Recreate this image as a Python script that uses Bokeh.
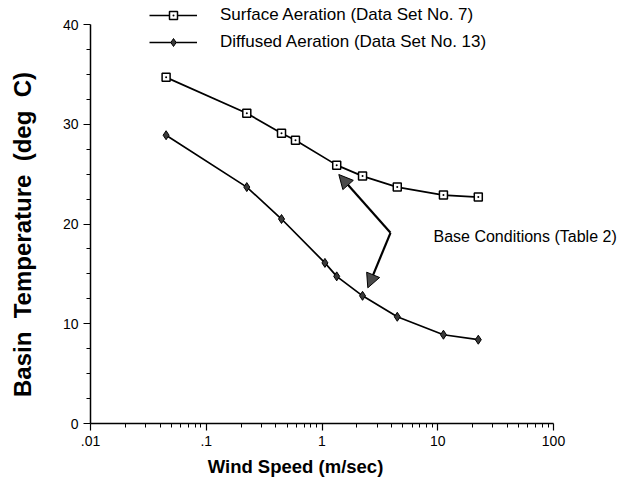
import math
from bokeh.plotting import figure
from bokeh.models import (Range1d, FixedTicker, Label, Arrow, NormalHead,
                          Legend, LegendItem)
from bokeh.embed import file_html
from bokeh.resources import INLINE

# ---- data ----
surface_wind = [0.045, 0.224, 0.447, 0.59, 1.34, 2.24, 4.47, 11.2, 22.4]
surface_temp = [34.7, 31.1, 29.1, 28.4, 25.9, 24.8, 23.7, 22.9, 22.7]
diffused_wind = [0.045, 0.224, 0.447, 1.06, 1.34, 2.24, 4.47, 11.2, 22.4]
diffused_temp = [28.9, 23.7, 20.5, 16.1, 14.75, 12.8, 10.7, 8.9, 8.4]
x_ticks = [0.01, 0.1, 1, 10, 100]
x_tick_labels = [".01", ".1", "1", "10", "100"]
y_ticks = [0, 10, 20, 30, 40]
y_tick_labels = ["0", "10", "20", "30", "40"]

FONT = "Liberation Sans"
W, H = 625, 482

# layout: the plot frame fills the canvas; the axes are drawn at fixed
# locations with bounds, so that texts outside the axes are not clipped.
# picture pixel positions of the axes' ends
PX_X0, PX_X1 = 90.0, 553.0     # x = .01 and x = 100
PX_Y0, PX_Y1 = 423.0, 24.0     # y = 0 and y = 40
dec = (PX_X1 - PX_X0) / 4.0
ypx = 40.0 / (PX_Y0 - PX_Y1)


def lx(px):
    return 10 ** (-2 + (px - PX_X0) / dec)


def ly(py):
    return (PX_Y0 - py) * ypx


p = figure(width=W, height=H, x_axis_type="log",
           x_range=Range1d(lx(0), lx(W)), y_range=Range1d(ly(H), ly(0)),
           output_backend="svg", toolbar_location=None,
           min_border=0, min_border_left=0, min_border_right=0,
           min_border_top=0, min_border_bottom=0)
p.outline_line_color = None
p.xgrid.visible = False
p.ygrid.visible = False
p.background_fill_color = "white"
p.border_fill_color = "white"

# axes
x_minor = [k * 10.0 ** e for e in range(-2, 2) for k in range(2, 10)]
p.xaxis.ticker = FixedTicker(ticks=x_ticks, minor_ticks=x_minor)
p.xaxis.major_label_overrides = dict(zip(x_ticks, x_tick_labels))
p.xaxis.fixed_location = 0
p.xaxis.bounds = (x_ticks[0], x_ticks[-1])
y_minor = [v + d for v in y_ticks[:-1] for d in (2.5, 5, 7.5)]
p.yaxis.ticker = FixedTicker(ticks=y_ticks, minor_ticks=y_minor)
p.yaxis.major_label_overrides = dict(zip(y_ticks, y_tick_labels))
p.yaxis.fixed_location = x_ticks[0]
p.yaxis.bounds = (y_ticks[0], y_ticks[-1])
for ax in (p.xaxis, p.yaxis):
    ax.axis_line_width = 1.5
    ax.axis_line_color = "black"
    ax.major_tick_line_color = "black"
    ax.minor_tick_line_color = "black"
    ax.major_tick_line_width = 1.2
    ax.minor_tick_line_width = 1
    ax.major_tick_in = 0
    ax.minor_tick_in = 0
    ax.major_tick_out = 7
    ax.minor_tick_out = 4
    ax.major_label_text_font = FONT
    ax.major_label_text_font_size = "14px"
    ax.major_label_text_color = "black"
    ax.major_label_standoff = 5

# series
l1 = p.line(surface_wind, surface_temp, line_color="black", line_width=1.7)
s1 = p.scatter(surface_wind, surface_temp, marker="square_dot", size=8,
               fill_color="white", line_color="black", line_width=1.5)
l2 = p.line(diffused_wind, diffused_temp, line_color="black", line_width=1.7)
s2 = p.scatter(diffused_wind, diffused_temp, marker="diamond", size=9,
               fill_color="#3a3a3a", line_color="black", line_width=1)

legend = Legend(items=[
    LegendItem(label="Surface Aeration (Data Set No. 7)", renderers=[l1, s1]),
    LegendItem(label="Diffused Aeration (Data Set No. 13)", renderers=[l2, s2]),
], location=(149, H - 52))
legend.border_line_color = None
legend.background_fill_alpha = 0
legend.padding = 0
legend.margin = 0
legend.spacing = 7
legend.glyph_width = 48
legend.glyph_height = 20
legend.label_height = 20
legend.label_standoff = 23
legend.label_text_font = FONT
legend.label_text_font_size = "17px"
legend.label_text_color = "black"
p.add_layout(legend)

# annotation: arrows and text
vx, vy = lx(390), ly(232.3)
head_kw = dict(size=14, fill_color="#4a4a4a", line_color="black", line_width=1)
p.add_layout(Arrow(end=NormalHead(**head_kw), x_start=vx, y_start=vy,
                   x_end=lx(338.3), y_end=ly(174), line_width=2.2,
                   line_color="black"))
p.add_layout(Arrow(end=NormalHead(**head_kw), x_start=vx, y_start=vy,
                   x_end=lx(367.3), y_end=ly(287.3), line_width=2.2,
                   line_color="black"))
p.add_layout(Label(x=lx(433), y=ly(236), text="Base Conditions (Table 2)",
                   text_font=FONT, text_font_size="16px",
                   text_baseline="middle", text_align="left",
                   text_color="black"))

# axis titles
NB2 = "\u00a0\u00a0"
p.add_layout(Label(x=lx(22), y=ly(234),
                   text="Basin" + NB2 + "Temperature" + NB2 + "(deg" + NB2 + "C)",
                   angle=math.pi / 2,
                   text_font=FONT, text_font_size="24px", text_font_style="bold",
                   text_align="center", text_baseline="middle",
                   text_color="black"))
p.add_layout(Label(x=lx(295), y=ly(466),
                   text="Wind Speed (m/sec)",
                   text_font=FONT, text_font_size="18.5px", text_font_style="bold",
                   text_align="center", text_baseline="middle",
                   text_color="black"))

open("out.html", "w").write(file_html(p, INLINE))
